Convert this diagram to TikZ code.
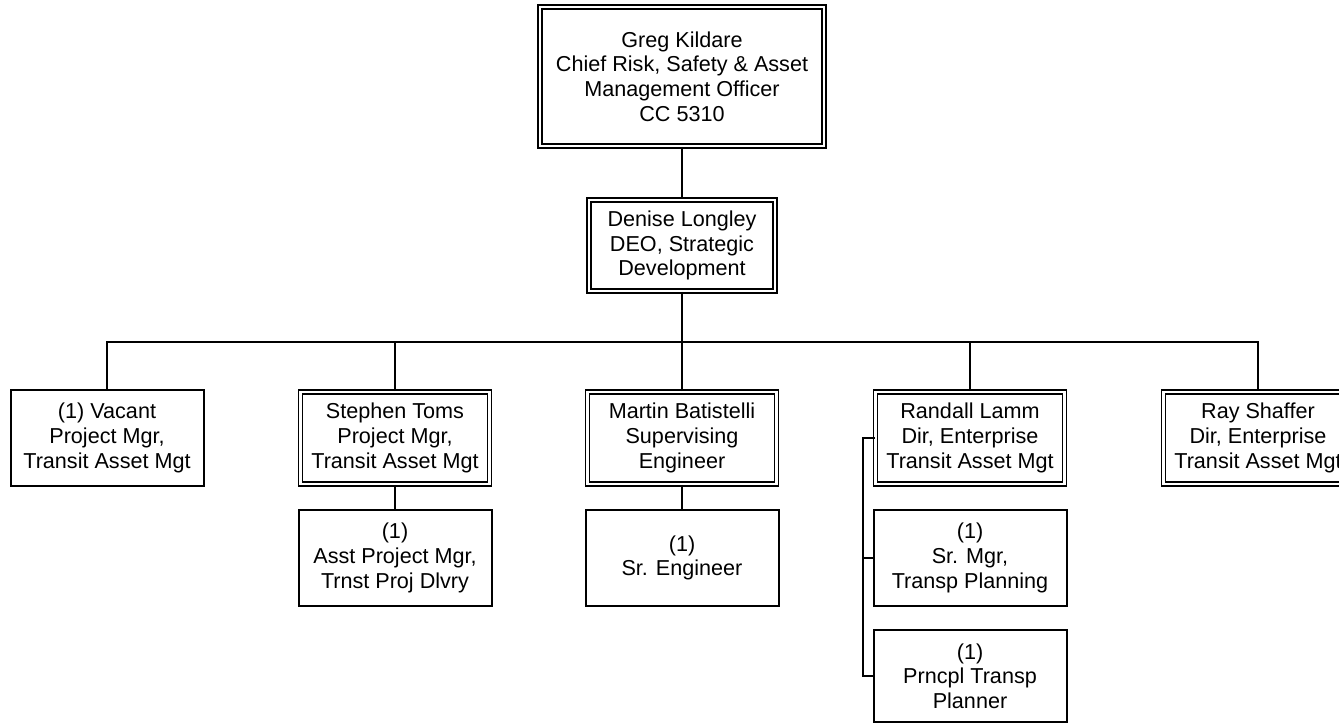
\documentclass[tikz,border=0pt]{standalone}
\usepackage{fontspec}
\setmainfont{Liberation Sans}
\begin{document}
\begin{tikzpicture}[x=1pt,y=-1pt,
  every node/.style={align=center,font=\fontsize{21.6}{24.6}\selectfont,inner sep=0pt},
  sbox/.style={draw,line width=2pt,rectangle,minimum width=193pt,minimum height=96pt},
  dbox/.style={draw,line width=1.6pt,double,double distance=2.2pt,rectangle,minimum width=189pt,minimum height=92pt},
  conn/.style={line width=2pt}]
\useasboundingbox (0,0) rectangle (1339,724);
\clip (0,0) rectangle (1339,724);
\node[dbox,minimum width=284pt,minimum height=139pt] (greg) at (682,76.5) {Greg Kildare\\Chief Risk, Safety \& Asset\\Management Officer\\CC 5310};
\node[dbox,minimum width=186pt,minimum height=91pt] (denise) at (682,245.5) {Denise Longley\\DEO, Strategic\\Development};
\node[sbox] (vacant) at (107,438) {(1) Vacant\\Project Mgr,\\Transit Asset Mgt};
\node[dbox] (stephen) at (395,438) {Stephen Toms\\Project Mgr,\\Transit Asset Mgt};
\node[dbox] (martin) at (682,438) {Martin Batistelli\\Supervising\\Engineer};
\node[dbox] (randall) at (970,438) {Randall Lamm\\Dir, Enterprise\\Transit Asset Mgt};
\node[dbox] (ray) at (1258,438) {Ray Shaffer\\Dir, Enterprise\\Transit Asset Mgt};
\node[sbox] (asst) at (395,558) {(1)\\Asst Project Mgr,\\Trnst Proj Dlvry};
\node[sbox] (sreng) at (682,558) {(1)\\Sr. Engineer};
\node[sbox] (srmgr) at (970,558) {(1)\\Sr. Mgr,\\Transp Planning};
\node[sbox,minimum height=92pt] (prncpl) at (970,676) {(1)\\Prncpl Transp\\Planner};
\coordinate (bus) at (682,342);
\draw[conn] (greg.south) -- (denise.north);
\draw[conn] (denise.south) -- (bus);
\draw[conn] (vacant.north) |- (bus) -| (ray.north);
\draw[conn] (stephen.north) -- (stephen.north |- bus);
\draw[conn] (martin.north) -- (martin.north |- bus);
\draw[conn] (randall.north) -- (randall.north |- bus);
\draw[conn] (stephen.south) -- (asst.north);
\draw[conn] (martin.south) -- (sreng.north);
\coordinate (side) at (863,438);
\draw[conn] (randall.west) -- (side) |- (prncpl.west);
\draw[conn] (srmgr.west) -- (srmgr.west -| side);
\end{tikzpicture}
\end{document}
